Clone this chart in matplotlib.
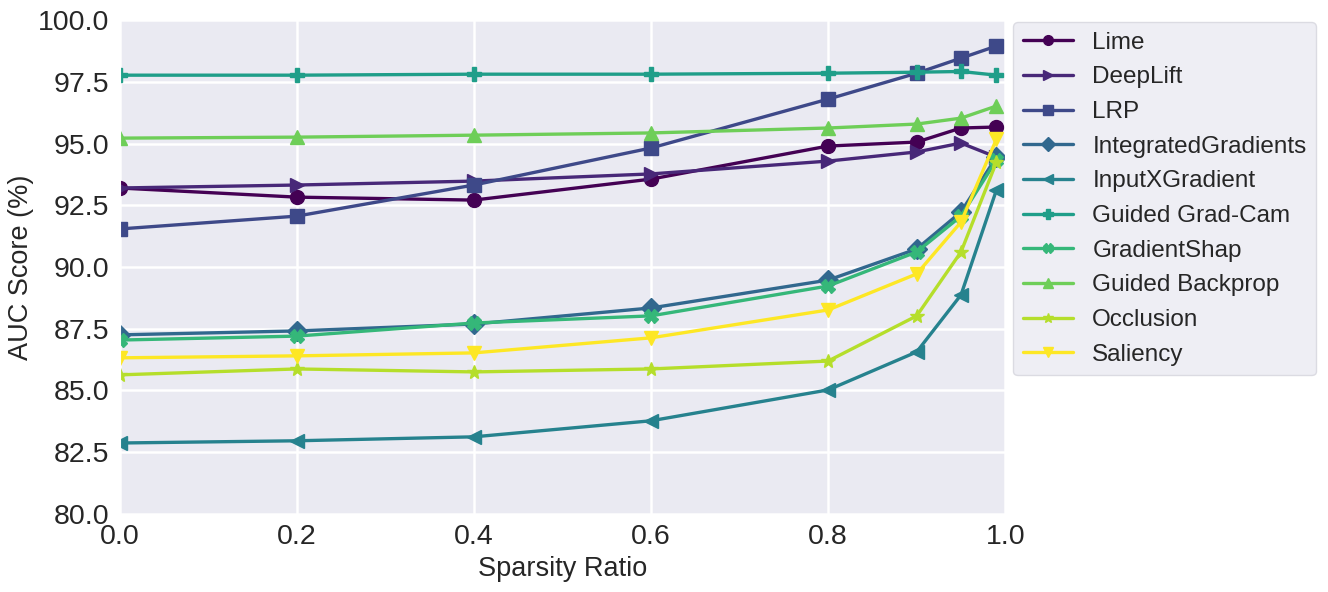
import numpy as np
import matplotlib
matplotlib.use("Agg")
import matplotlib.pyplot as plt
import seaborn as sns

# --- dane ---
sparsity = [0.0, 0.2, 0.4, 0.6, 0.8, 0.9, 0.95, 0.99]

methods = ["Lime", "DeepLift", "LRP", "IntegratedGradients", "InputXGradient",
           "Guided Grad-Cam", "GradientShap", "Guided Backprop", "Occlusion", "Saliency"]

lime = [93.20, 92.83, 92.71, 93.56, 94.90, 95.06, 95.63, 95.67]
deeplift = [93.20, 93.32, 93.48, 93.77, 94.29, 94.66, 95.02, 94.45]
lrp = [91.54, 92.06, 93.32, 94.82, 96.80, 97.85, 98.46, 98.95]
integrated_gradients = [87.25, 87.41, 87.69, 88.34, 89.47, 90.73, 92.23, 94.45]
input_x_gradient = [82.87, 82.96, 83.12, 83.77, 85.02, 86.56, 88.87, 93.12]
guided_gradcam = [97.77, 97.77, 97.81, 97.81, 97.85, 97.89, 97.92, 97.77]
gradient_shap = [87.04, 87.20, 87.73, 88.02, 89.23, 90.61, 92.06, 94.33]
guided_backprop = [95.22, 95.26, 95.34, 95.43, 95.63, 95.79, 96.03, 96.52]
occlusion = [85.63, 85.87, 85.75, 85.87, 86.19, 88.02, 90.61, 94.25]
saliency = [86.32, 86.40, 86.52, 87.13, 88.26, 89.72, 91.82, 95.18]

scores = [lime, deeplift, lrp, integrated_gradients, input_x_gradient,
          guided_gradcam, gradient_shap, guided_backprop, occlusion, saliency]
markers = ["o", ">", "s", "D", "<", "P", "X", "^", "*", "v"]

sns.set_style("darkgrid")
plt.rcParams["font.family"] = ["Liberation Sans", "DejaVu Sans"]

colors = plt.cm.viridis(np.linspace(0, 1, len(methods)))

fig, ax = plt.subplots(figsize=(13.28, 5.92), dpi=100)
fig.subplots_adjust(left=0.09, right=0.757, top=0.966, bottom=0.132)

for name, vals, m, c in zip(methods, scores, markers, colors):
    ax.plot(sparsity, vals, marker=m, color=c, label=name, linewidth=2.4, markersize=10)

ax.set_xlim(0.0, 1.0)
ax.set_ylim(80.0, 100.0)
ax.set_xticks(np.arange(0, 1.01, 0.2))
ax.set_yticks(np.arange(80, 100.1, 2.5))
ax.tick_params(labelsize=20.5, pad=4)
ax.grid(color="white", linewidth=1.8)
ax.set_xlabel("Sparsity Ratio", fontsize=19.5, labelpad=4)
ax.set_ylabel("AUC Score (%)", fontsize=19.5, labelpad=3)

leg = ax.legend(loc="upper left", bbox_to_anchor=(1.009, 0.996), borderaxespad=0,
                fontsize=17.5, frameon=True, facecolor="#EAEAF2", edgecolor="#D5D5DD",
                handlelength=2.05, labelspacing=0.52, markerscale=0.7)

fig.savefig("out.png", dpi=100)
